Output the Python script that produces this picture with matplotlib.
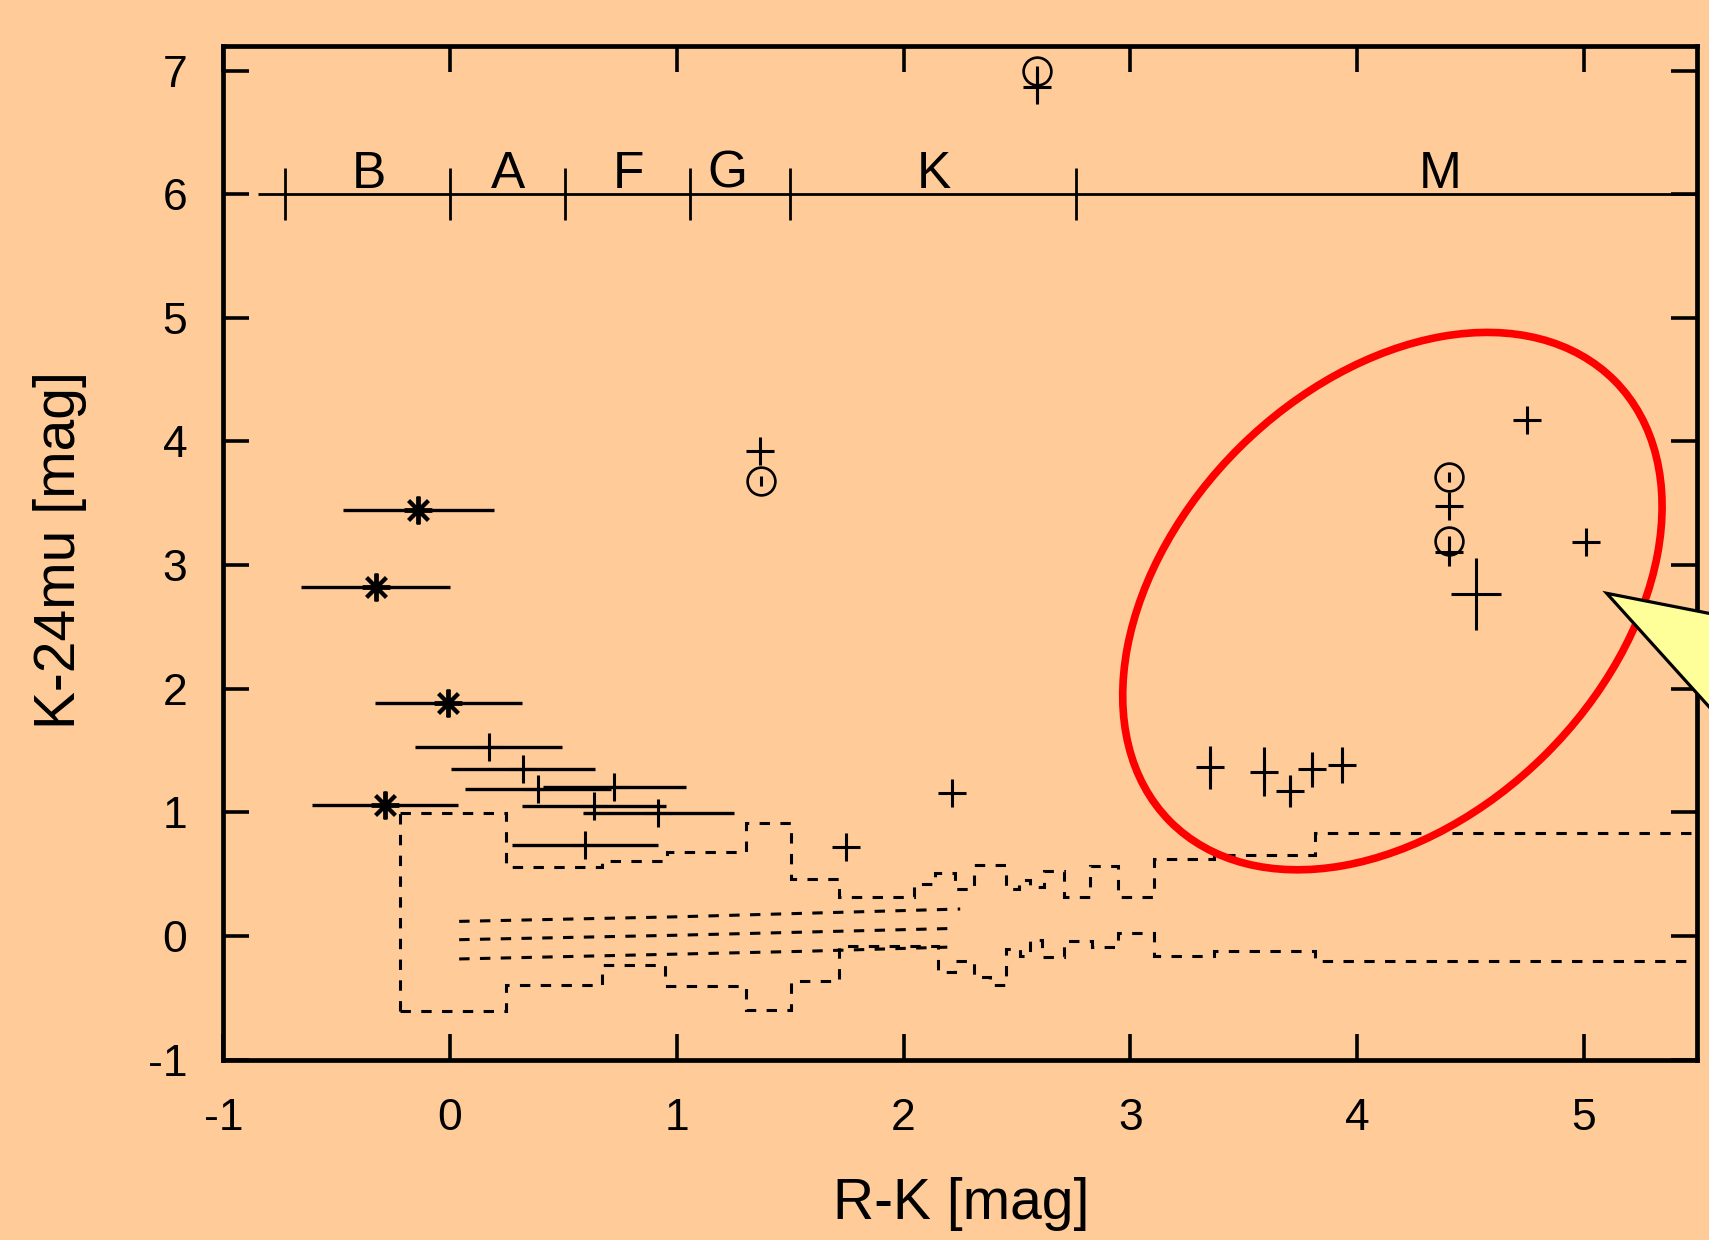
import matplotlib
matplotlib.use('Agg')
import matplotlib.pyplot as plt
from matplotlib.patches import Ellipse, Polygon

plt.rcParams['font.family'] = ['Liberation Sans', 'DejaVu Sans']
plt.rcParams['axes.unicode_minus'] = False

BG = '#FFCC99'

# ---------------- data ----------------
# asterisk points with horizontal error bars
star_x = [-0.140, -0.329, -0.008, -0.288]
star_y = [3.446, 2.819, 1.885, 1.057]
star_xerr = [0.332, 0.327, 0.323, 0.323]

# plus points with horizontal error bars
pe_x = [0.170, 0.320, 0.389, 0.725, 0.636, 0.918, 0.593]
pe_y = [1.525, 1.348, 1.186, 1.203, 1.054, 0.993, 0.734]
pe_xerr = [0.323, 0.318, 0.322, 0.315, 0.317, 0.333, 0.322]

# plain plus points
p_x = [1.747, 2.214, 1.367, 4.749, 5.011, 4.407, 4.407]
p_y = [0.718, 1.154, 3.919, 4.175, 3.188, 3.475, 3.104]

# plus points with vertical error bars
pm_x = [3.352, 3.590, 3.705, 3.800, 3.932, 2.589]
pm_y = [1.364, 1.329, 1.173, 1.348, 1.383, 6.870]
pm_yerr = [0.175, 0.198, 0.130, 0.140, 0.148, 0.140]

# large error cross
big_x = [4.524]
big_y = [2.768]
big_xerr = [0.11]
big_yerr = [0.29]

# circle symbols
c_x = [1.370, 2.589, 4.407, 4.407]
c_y = [3.677, 7.000, 3.716, 3.198]

# spectral type scale
sp_start = -0.848
sp_level = 6.0
sp_edges = [-0.727, 0.0, 0.506, 1.059, 1.50, 2.76]
sp_labels = ['B', 'A', 'F', 'G', 'K', 'M']
sp_label_x = [-0.358, 0.257, 0.785, 1.222, 2.134, 4.367]

# model envelope (step curves)
up_edges = [-0.22, 0.247, 0.668, 0.958, 1.304, 1.502, 1.715, 2.045, 2.14, 2.229,
            2.309, 2.452, 2.51, 2.56, 2.62, 2.71, 2.823, 2.945, 3.105, 3.37, 3.815, 5.5]
up_vals = [0.993, 0.557, 0.608, 0.683, 0.912, 0.460, 0.314, 0.422, 0.508, 0.379,
           0.573, 0.380, 0.450, 0.400, 0.527, 0.314, 0.567, 0.314, 0.621, 0.651, 0.831]

low_edges = [-0.22, 0.247, 0.668, 0.95, 1.304, 1.502, 1.715, 2.152, 2.229, 2.31, 2.38,
             2.452, 2.512, 2.56, 2.61, 2.71, 2.83, 2.945, 3.105, 3.37, 3.815, 5.5]
low_vals = [-0.608, -0.393, -0.232, -0.406, -0.595, -0.366, -0.084, -0.290, -0.200,
            -0.330, -0.400, -0.107, -0.158, -0.030, -0.170, -0.044, -0.090, 0.024,
            -0.165, -0.124, -0.205]

# three inner model tracks
trackA_x = [0.04, 1.0, 2.25]
trackA_y = [0.118, 0.155, 0.218]
trackB_x = [0.04, 1.0, 2.20]
trackB_y = [-0.030, 0.006, 0.060]
trackC_x = [0.04, 1.56, 2.20]
trackC_y = [-0.186, -0.124, -0.090]

x_ticks = [-1, 0, 1, 2, 3, 4, 5]
y_ticks = [-1, 0, 1, 2, 3, 4, 5, 6, 7]

# ---------------- figure ----------------
fig = plt.figure(figsize=(17.09, 12.40), dpi=100, facecolor=BG)
ax = fig.add_axes([0.13072, 0.14548, 0.86226, 0.81758], facecolor=BG)
ax.set_xlim(-1, 5.5)
ax.set_ylim(-1, 7.2)

dash = (0, (3.4, 3.4))
LW_D = 2.2
ax.stairs(up_vals, up_edges, baseline=None, color='k', lw=LW_D, ls=dash)
ax.stairs(low_vals, low_edges, baseline=None, color='k', lw=LW_D, ls=dash)
ax.vlines(up_edges[0], low_vals[0], up_vals[0], color='k', lw=LW_D, ls=dash)
for tx, ty in [(trackA_x, trackA_y), (trackB_x, trackB_y), (trackC_x, trackC_y)]:
    ax.plot(tx, ty, color='k', lw=LW_D, ls=dash)

# spectral type scale
ax.hlines(sp_level, sp_start, 5.5, color='k', lw=2.0)
ax.vlines(sp_edges, sp_level - 0.21, sp_level + 0.21, color='k', lw=2.0)
for lx, lab in zip(sp_label_x, sp_labels):
    ax.text(lx, sp_level + 0.05, lab, ha='center', va='baseline', fontsize=37)

# data points
ax.errorbar(star_x, star_y, xerr=star_xerr, fmt='none', ecolor='k', elinewidth=2.4, capsize=0)
ax.plot(star_x, star_y, ls='none', marker=(8, 2, 0), ms=20, mew=2.8, color='k')

ax.errorbar(pe_x, pe_y, xerr=pe_xerr, fmt='none', ecolor='k', elinewidth=2.4, capsize=0)
ax.plot(pe_x, pe_y, ls='none', marker='+', ms=19.5, mew=2.2, color='k')

ax.plot(p_x, p_y, ls='none', marker='+', ms=19.5, mew=2.2, color='k')

ax.errorbar(pm_x, pm_y, yerr=pm_yerr, fmt='none', ecolor='k', elinewidth=2.2, capsize=0)
ax.plot(pm_x, pm_y, ls='none', marker='+', ms=19.5, mew=2.2, color='k')

ax.errorbar(big_x, big_y, xerr=big_xerr, yerr=big_yerr, fmt='none', ecolor='k',
            elinewidth=2.2, capsize=0)

ax.plot(c_x, c_y, ls='none', marker='o', ms=20, mfc='none', mec='k', mew=1.9)
ax.plot(c_x, c_y, ls='none', marker='|', ms=7, mew=2.2, color='k')

# axes styling
ax.set_xticks(x_ticks)
ax.set_yticks(y_ticks)
ax.tick_params(direction='in', top=True, right=True, length=19, width=2.6,
               labelsize=32, colors='k')
ax.tick_params(axis='x', pad=28)
ax.tick_params(axis='y', pad=26)
for s in ax.spines.values():
    s.set_linewidth(3.4)

ax.set_xlabel('R-K [mag]', fontsize=41)
ax.xaxis.set_label_coords(0.5005, -0.1424)
ax.xaxis.label.set_va('center')
ax.set_ylabel('K-24mu [mag]', fontsize=41)
ax.yaxis.set_label_coords(-0.1109, 0.5027)
ax.yaxis.label.set_va('center')

# slide annotations: red ellipse and yellow callout pointer
ell = Ellipse((13.924, 6.389), width=6.26, height=4.334, angle=44.7,
              transform=fig.dpi_scale_trans, fill=False, edgecolor='#FF0000',
              lw=5.5, zorder=15)
fig.add_artist(ell)
tri = Polygon([(16.067, 6.467), (17.2, 6.245), (17.2, 5.211)], closed=True,
              transform=fig.dpi_scale_trans, facecolor='#FFFF99', edgecolor='k',
              lw=2.3, zorder=20, joinstyle='miter')
fig.add_artist(tri)

fig.savefig('out.png', dpi=100, facecolor=BG)
